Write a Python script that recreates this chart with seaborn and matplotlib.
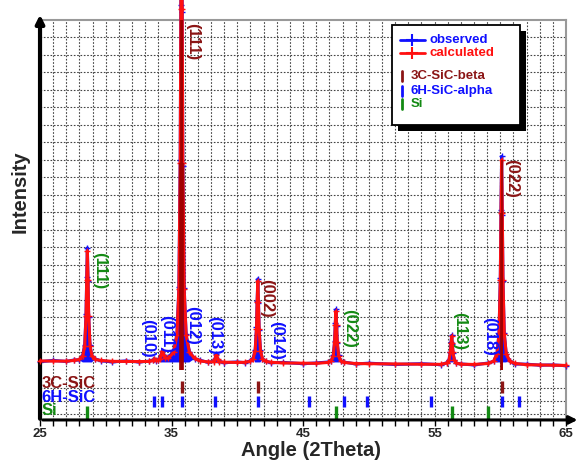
import numpy as np
import pandas as pd
import seaborn as sns
import matplotlib.pyplot as plt
from matplotlib.patches import Rectangle
from matplotlib.lines import Line2D

# pattern (2theta, counts)
angle = [25.0, 26.0, 27.0, 27.6, 28.0, 28.25, 28.4, 28.5, 28.55, 28.6, 28.65, 28.7, 28.8, 28.95, 29.2, 29.6,
         30.5, 31.5, 32.5, 33.3, 33.6, 33.7, 33.8, 34.0, 34.1, 34.2, 34.3, 34.4, 34.5,
         34.76, 35.16, 35.41, 35.56, 35.66, 35.71, 35.76, 35.81, 35.86, 35.96, 36.11, 36.36, 36.76,
         37.2, 37.8, 38.2, 38.3, 38.4, 38.5, 38.6, 39.0, 40.0,
         40.56, 40.96, 41.21, 41.36, 41.46, 41.51, 41.56, 41.61, 41.66, 41.76, 41.91, 42.16, 42.56,
         43.5, 45.0, 46.0,
         46.9, 47.15, 47.3, 47.4, 47.45, 47.5, 47.55, 47.6, 47.7, 47.85, 48.1,
         49.0, 50.0, 52.0, 54.0, 55.5,
         55.95, 56.1, 56.2, 56.25, 56.3, 56.35, 56.4, 56.5, 56.65, 57.0, 58.0,
         59.1, 59.5, 59.75, 59.9, 60.0, 60.05, 60.1, 60.15, 60.2, 60.3, 60.45, 60.7, 61.1,
         62.0, 63.0, 64.0, 65.0]

calculated = [180, 178, 176, 190, 210, 280, 480, 1080, 1800, 2380, 1800, 1080, 480, 280, 210, 190,
              172, 170, 168, 170, 190, 215, 190, 190, 220, 290, 370, 295, 240,
              235, 350, 690, 1612, 4137, 7216, 9655, 7216, 4137, 1612, 690, 350, 230,
              180, 160, 165, 215, 300, 215, 165, 155, 150,
              153, 170, 225, 385, 820, 1350, 1780, 1350, 820, 385, 225, 170, 153,
              140, 135, 132,
              150, 185, 285, 560, 900, 1170, 900, 560, 285, 185, 150,
              128, 125, 120, 115, 112,
              140, 195, 350, 530, 670, 530, 350, 195, 140, 115, 110,
              130, 180, 325, 720, 1800, 3130, 4200, 3130, 1800, 720, 325, 180, 130,
              105, 100, 95, 90]

observed = [165, 190, 170, 200, 200, 295, 505, 1120, 1850, 2440, 1770, 1050, 495, 270, 220, 185,
            160, 180, 160, 175, 200, 225, 185, 200, 230, 300, 380, 290, 250,
            250, 380, 720, 1650, 4200, 7300, 9800, 7150, 4080, 1640, 710, 365, 225,
            190, 150, 175, 225, 310, 205, 170, 145, 160,
            145, 180, 240, 400, 850, 1380, 1820, 1330, 800, 400, 215, 175, 145,
            150, 125, 140,
            158, 180, 300, 575, 930, 1210, 880, 545, 295, 180, 158,
            120, 135, 110, 125, 105,
            148, 205, 365, 550, 690, 515, 340, 205, 135, 120, 100,
            140, 172, 335, 740, 1840, 3190, 4270, 3090, 1770, 735, 315, 188, 120,
            115, 95, 100, 85]

# reflection markers
c3_pos = [35.76, 41.56, 60.13]
h6_pos = [33.68, 34.3, 35.76, 38.32, 41.56, 45.42, 48.1, 49.85, 54.72, 60.13, 61.39]
si_pos = [28.6, 47.5, 56.3, 59.1]

# peak labels: text, angle, counts, phase
peak_text = ["(111)", "(111)", "(010)", "(011)", "(012)", "(013)", "(002)", "(014)",
             "(022)", "(113)", "(018)", "(022)"]
peak_x = [29.56, 36.6, 33.15, 34.63, 36.63, 38.3, 42.25, 43.0, 48.57, 56.94, 59.22, 60.88]
peak_y = [1980, 6560, 640, 720, 880, 700, 1440, 600, 820, 780, 680, 3820]
peak_phase = ["si", "c3", "h6", "h6", "h6", "h6", "c3", "h6", "si", "si", "h6", "c3"]

RED = "#ff1010"
BLUE = "#1010ff"
DRED = "#8b1515"
GREEN = "#138a13"
phase_col = {"c3": DRED, "h6": BLUE, "si": GREEN}

sns.set_theme(style="white")
plt.rcParams["font.family"] = ["Liberation Sans", "DejaVu Sans"]
plt.rcParams["font.weight"] = "bold"

df = pd.DataFrame({"angle": angle, "observed": observed, "calculated": calculated})

fig = plt.figure(figsize=(5.8, 4.62), dpi=100)
ax = fig.add_axes([0.069, 0.091, 0.907, 0.866])

ax.fill_between(df.angle, df.observed, 150, where=df.observed >= 250, interpolate=True,
                color=BLUE, lw=0, zorder=2)
sns.lineplot(data=df, x="angle", y="observed", color=BLUE, lw=2.2, marker="+", ms=5,
             mew=1, mec=BLUE, estimator=None, sort=False, ax=ax, zorder=3)
sns.lineplot(data=df, x="angle", y="calculated", color=RED, lw=2.2, marker="+", ms=5,
             mew=1, mec=RED, estimator=None, sort=False, ax=ax, zorder=4)
ax.vlines(df.angle[df.calculated > 3000], 0, df.calculated[df.calculated > 3000],
          color="#a00000", lw=1.2, zorder=5)
for l in ax.lines:
    l.set_clip_on(False)

ax.vlines(c3_pos, -460, -220, color=DRED, lw=2.4, zorder=3)
ax.vlines(h6_pos, -740, -520, color=BLUE, lw=2.4, zorder=3)
ax.vlines(si_pos, -1000, -720, color=GREEN, lw=2.4, zorder=3)

for t, x, y, p in zip(peak_text, peak_x, peak_y, peak_phase):
    ax.text(x, y, t, rotation=270, color=phase_col[p], fontsize=12, fontweight="bold",
            ha="center", va="center", zorder=6)

ax.text(0.003, 0.092, "3C-SiC", transform=ax.transAxes, color=DRED, fontsize=12,
        fontweight="bold", va="center", ha="left", zorder=6)
ax.text(0.003, 0.057, "6H-SiC", transform=ax.transAxes, color=BLUE, fontsize=12,
        fontweight="bold", va="center", ha="left", zorder=6)
ax.text(0.003, 0.023, "Si", transform=ax.transAxes, color=GREEN, fontsize=12,
        fontweight="bold", va="center", ha="left", zorder=6)

ax.set_xlim(25, 65)
ax.set_ylim(-1000, 7000)
ax.set_xticks(np.arange(25, 66, 10))
ax.set_xticks(np.arange(25, 66, 1), minor=True)
ax.set_xticklabels(["25", "35", "45", "55", "65"], fontsize=9.5, fontweight="bold")
ax.set_yticks(list(np.arange(350, 7000, 350)) + [-360, -620, -880])
ax.set_yticklabels([])
ax.tick_params(axis="y", length=0)
ax.tick_params(axis="x", which="both", direction="out", length=4, width=1, color="black",
               bottom=True, pad=2)
ax.grid(True, which="both", axis="x", ls=(0, (1.5, 1.5)), color="#444", lw=0.8)
ax.grid(True, which="major", axis="y", ls=(0, (1.5, 1.5)), color="#444", lw=0.8)
ax.set_axisbelow(True)

ax.set_xlabel("")
ax.set_ylabel("")
for s in ["top", "right"]:
    ax.spines[s].set_color("#999999")
    ax.spines[s].set_linewidth(1.5)
ax.spines["left"].set_visible(False)
ax.spines["bottom"].set_visible(False)
ax.annotate("", xy=(1.027, 0), xytext=(0, 0), xycoords="axes fraction",
            arrowprops=dict(arrowstyle="-|>", lw=2.2, color="black", mutation_scale=12),
            annotation_clip=False)
ax.annotate("", xy=(0, 1.02), xytext=(0, -0.004), xycoords="axes fraction",
            arrowprops=dict(arrowstyle="-|>", lw=3, color="black", mutation_scale=12),
            annotation_clip=False)

fig.text(311 / 580, 1 - 451 / 462, "Angle (2Theta)", fontsize=14.5, fontweight="bold",
         ha="center", va="center")
fig.text(20 / 580, 1 - 192 / 462, "Intensity", fontsize=14.5, fontweight="bold",
         rotation=90, ha="center", va="center")

# legend box with black shadow
ax.add_patch(Rectangle((0.680, 0.7225), 0.244, 0.25, transform=ax.transAxes,
                       facecolor="black", edgecolor="none", zorder=7, clip_on=False))
ax.add_patch(Rectangle((0.669, 0.7375), 0.244, 0.25, transform=ax.transAxes,
                       facecolor="white", edgecolor="black", lw=1.3, zorder=8, clip_on=False))
for yy, col, lab in [(0.95, BLUE, "observed"), (0.9175, RED, "calculated")]:
    ax.add_line(Line2D([0.684, 0.732], [yy, yy], transform=ax.transAxes, color=col, lw=2,
                       zorder=9))
    ax.add_line(Line2D([0.708], [yy], transform=ax.transAxes, color=col, marker="+",
                       ms=8, mew=1.5, zorder=9))
    ax.text(0.741, yy, lab, transform=ax.transAxes, color=col, fontsize=9.5,
            fontweight="bold", va="center", ha="left", zorder=9)
for yy, col, lab in [(0.86, DRED, "3C-SiC-beta"), (0.8225, BLUE, "6H-SiC-alpha"),
                     (0.79, GREEN, "Si")]:
    ax.add_line(Line2D([0.689, 0.689], [yy - 0.013, yy + 0.013], transform=ax.transAxes,
                       color=col, lw=2, zorder=9))
    ax.text(0.704, yy, lab, transform=ax.transAxes, color=col, fontsize=9.5,
            fontweight="bold", va="center", ha="left", zorder=9)

fig.savefig("out.png", dpi=100)
